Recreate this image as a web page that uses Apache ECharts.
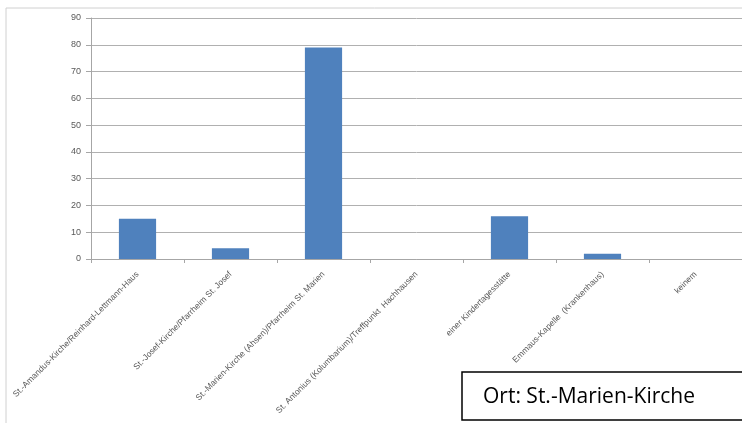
<!DOCTYPE html>
<html>
<head>
<meta charset="utf-8">
<script src="https://cdn.jsdelivr.net/npm/echarts@6/dist/echarts.min.js"></script>
<style>
  html, body { margin: 0; padding: 0; background: #fff; }
  #chart { width: 742px; height: 423px; }
</style>
</head>
<body>
<div id="chart"></div>
<script>
// places (categories) and counts
const places = [
    'St.-Amandus-Kirche/Reinhard-Lettmann-Haus',
    'St.-Josef-Kirche/Pfarrheim St. Josef',
    'St.-Marien-Kirche (Ahsen)/Pfarrheim St. Marien',
    'St. Antonius (Kolumbarium)/Treffpunkt  Hachhausen',
    'einer Kindertagesstätte',
    'Emmaus-Kapelle  (Krankenhaus)',
    'keinem'
];
const counts = [15, 4, 79, 0, 16, 2, 0];
const yTicks = { min: 0, max: 90, step: 10 };
const boxText = 'Ort: St.-Marien-Kirche';

const chart = echarts.init(document.getElementById('chart'));

const option = {
    animation: false,
    grid: { left: 91, right: 0, top: 18, bottom: 164, containLabel: false },
    xAxis: {
        type: 'category',
        data: places,
        axisLine: { lineStyle: { color: '#a6a6a6', width: 1 } },
        axisTick: { show: true, length: 4, lineStyle: { color: '#a6a6a6' } },
        axisLabel: {
            interval: 0,
            rotate: 45,
            margin: 14,
            color: '#595959',
            fontSize: 8.5,
            fontFamily: 'Liberation Sans'
        }
    },
    yAxis: {
        type: 'value',
        min: yTicks.min,
        max: yTicks.max,
        interval: yTicks.step,
        axisLine: { show: true, lineStyle: { color: '#a6a6a6' } },
        axisTick: { show: true, length: 5, lineStyle: { color: '#a6a6a6' } },
        axisLabel: { color: '#595959', fontSize: 9, margin: 10, fontFamily: 'Liberation Sans' },
        splitLine: { lineStyle: { color: '#b0b0b0', width: 1 } }
    },
    series: [{
        type: 'bar',
        data: counts,
        barWidth: '40%',
        itemStyle: { color: '#4f81bd' }
    }],
    graphic: [
        {
            type: 'rect',
            shape: { x: 6, y: 8, width: 800, height: 500 },
            style: { fill: 'none', stroke: '#d0d0d0', lineWidth: 1 },
            silent: true,
            z: -1
        },
        {
            type: 'rect',
            shape: { x: 462, y: 372, width: 300, height: 48 },
            style: { fill: '#fff', stroke: '#000', lineWidth: 1.5 },
            z: 10
        },
        {
            type: 'text',
            x: 483,
            y: 397,
            style: {
                text: boxText,
                fill: '#000',
                font: '21px "Open Sans"',
                verticalAlign: 'middle'
            },
            z: 11
        }
    ]
};

chart.setOption(option);
</script>
</body>
</html>
